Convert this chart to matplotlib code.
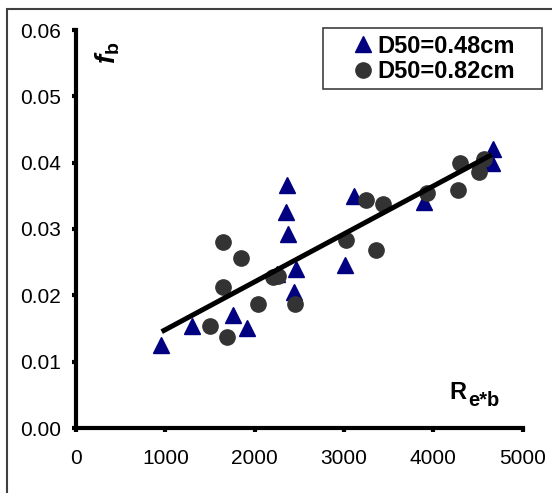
import matplotlib
matplotlib.use("Agg")
import matplotlib.pyplot as plt
from matplotlib.patches import Rectangle

plt.rcParams['font.family'] = ['Liberation Sans', 'DejaVu Sans']
plt.rcParams['mathtext.fontset'] = 'custom'
plt.rcParams['mathtext.rm'] = 'Liberation Sans:bold'
plt.rcParams['mathtext.bf'] = 'Liberation Sans:bold'
plt.rcParams['mathtext.it'] = 'Liberation Sans:italic:bold'

# Data
tri_x = [955, 1304, 1752, 1911, 2250, 2366, 2351, 2377, 2463, 2444, 3015, 3114, 3896, 4522, 4653, 4672]
tri_y = [0.0125, 0.0154, 0.0170, 0.0151, 0.0232, 0.0366, 0.0326, 0.0292, 0.0239, 0.0205, 0.0246, 0.0349, 0.0341, 0.0402, 0.0400, 0.0420]
cir_x = [1500, 1687, 1642, 1642, 1843, 2034, 2201, 2265, 2452, 3020, 3246, 3358, 3433, 3926, 4280, 4299, 4515, 4567]
cir_y = [0.0154, 0.0137, 0.0212, 0.0281, 0.0256, 0.0187, 0.0228, 0.0229, 0.0187, 0.0283, 0.0343, 0.0268, 0.0337, 0.0354, 0.0359, 0.0400, 0.0386, 0.0405]
fit_x = [959, 4653]
fit_y = [0.01452, 0.0412]
x_ticks = [0, 1000, 2000, 3000, 4000, 5000]
y_ticks = [0.00, 0.01, 0.02, 0.03, 0.04, 0.05, 0.06]
labels = ['D50=0.48cm', 'D50=0.82cm']

W, H = 552, 493
fig = plt.figure(figsize=(W/100, H/100), dpi=100)
ax = fig.add_axes([76/W, 1-428/H, (522.7-76)/W, (428-30)/H])

ax.plot(tri_x, tri_y, linestyle='none', marker='^', markersize=11, color='#000080',
        markeredgecolor='#000080', label=labels[0], zorder=3)
ax.plot(cir_x, cir_y, linestyle='none', marker='o', markersize=11, color='#333333',
        markeredgecolor='#333333', label=labels[1], zorder=4)
ax.plot(fit_x, fit_y, color='black', linewidth=3.6, solid_capstyle='butt', zorder=5)

ax.set_xlim(0, 5000)
ax.set_ylim(0, 0.06)
ax.set_xticks(x_ticks)
ax.set_yticks(y_ticks)
ax.set_yticklabels([f"{v:.2f}" for v in y_ticks])
ax.spines['top'].set_visible(False)
ax.spines['right'].set_visible(False)
for s in ['left', 'bottom']:
    ax.spines[s].set_linewidth(3)
ax.tick_params(axis='both', direction='out', length=3, width=3, labelsize=15, colors='black')
ax.tick_params(axis='x', pad=12)
ax.tick_params(axis='y', pad=8)

fig.text(108/W, 1-53/H, r'$f_{\mathrm{b}}$', rotation=90, fontsize=20,
         ha='center', va='center')
fig.text(449/W, 1-399/H, 'R', fontsize=17, fontweight='bold', ha='left', va='baseline')
fig.text(468/W, 1-406/H, 'e*b', fontsize=14.5, fontweight='bold', ha='left', va='baseline')

leg = fig.legend(loc='center left', bbox_to_anchor=(351/W, 1-59/H),
                 prop={'weight': 'bold', 'size': 17}, frameon=False,
                 handletextpad=0.1, handlelength=1.0, borderpad=0, labelspacing=0.12,
                 borderaxespad=0)

fig.patches.append(Rectangle((323/W, 1-89/H), (542-323)/W, (89-28)/H, transform=fig.transFigure,
                             fill=False, edgecolor='#404040', linewidth=1.2))
fig.patches.append(Rectangle((7/W, -0.1), 1.2, (1-9/H)+0.1, transform=fig.transFigure,
                             fill=False, edgecolor='#404040', linewidth=1.5, clip_on=False))

fig.savefig('out.png', dpi=100)
